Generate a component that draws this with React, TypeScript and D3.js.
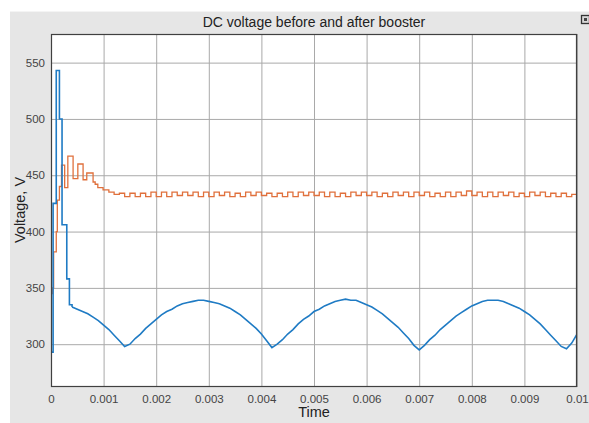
import React, { useEffect, useRef } from 'react';
import * as d3 from 'd3';

// tick labels
const xTicks = [0, 0.001, 0.002, 0.003, 0.004, 0.005, 0.006, 0.007, 0.008, 0.009, 0.01];
const xTickLabels = ['0', '0.001', '0.002', '0.003', '0.004', '0.005', '0.006', '0.007', '0.008', '0.009', '0.01'];
const yTicks = [300, 350, 400, 450, 500, 550];

// before booster (blue): start-up transient, then samples every 0.1 ms from 0.4 ms
const blueTransT = [0, 0.00004, 0.0001, 0.00016, 0.00021, 0.0003, 0.00035];
const blueTransV = [293, 425, 543, 500, 406, 358, 335];
const sampleStep = 0.0001;
const blueStartIdx = 4;
const blueV = [
  333, 331, 329, 327, 324, 321, 317, 313, 308, 303, 298,
  300, 305, 309, 314, 318, 322, 326, 329, 331, 334, 336, 337, 338, 339, 339, 338, 337, 336, 334, 332, 329, 326, 322, 318, 314, 309, 303, 297,
  300, 304, 309, 313, 318, 322, 325, 329, 331, 334, 336, 338, 339, 340, 339, 339, 337, 335, 333, 330, 327, 323, 319, 315, 310, 305, 299, 295,
  299, 304, 308, 313, 317, 321, 325, 328, 331, 334, 336, 338, 339, 339, 339, 338, 336, 334, 332, 329, 326, 322, 318, 313, 308, 303, 298, 296, 301, 309,
];

// after booster (orange): start-up transient, then ripple every 0.1 ms from 1.1 ms
const redTransT = [0, 0.00003, 0.00005, 0.0001, 0.00012, 0.00016, 0.0002, 0.00026, 0.00032, 0.00042, 0.00051, 0.00061, 0.00068, 0.0008, 0.00084, 0.00089, 0.00099];
const redTransV = [345, 350, 382, 400, 428, 440, 459, 439, 467, 447, 460, 446, 452, 444, 442, 439, 437];
const redStartIdx = 11;
const redV = [
  435, 433, 434, 431, 434, 431, 434, 431, 435, 431,
  435, 431, 435, 432, 435, 432, 435, 431, 435, 431,
  435, 432, 435, 431, 434, 431, 435, 432, 435, 432,
  434, 431, 434, 431, 435, 431, 435, 432, 435, 432,
  435, 431, 435, 431, 434, 431, 435, 432, 435, 432,
  435, 431, 434, 431, 435, 432, 435, 431, 435, 432,
  435, 431, 434, 431, 435, 431, 435, 432, 436, 432,
  435, 431, 435, 431, 435, 432, 435, 431, 434, 431,
  435, 432, 435, 431, 434, 431, 434, 431, 433, 431,
];

const Chart = ({ width = 589, height = 423 }) => {
  const ref = useRef<SVGSVGElement>(null);

  useEffect(() => {
    const svg = d3.select(ref.current);
    svg.selectAll('*').remove();
    svg.attr('width', width).attr('height', height);

    const font = 'Liberation Sans, Arial, sans-serif';
    const left = 51, right = 577, top = 34, bottom = 387;

    svg.append('rect').attr('width', width).attr('height', height).attr('fill', '#ffffff');
    svg.append('rect').attr('x', 10).attr('y', 11).attr('width', width - 10).attr('height', height - 11).attr('fill', '#e6e6e6');
    svg.append('line').attr('x1', 10).attr('x2', width).attr('y1', 11.5).attr('y2', 11.5).attr('stroke', '#f4f4f4');

    // little icon top right
    svg.append('rect').attr('x', 581.5).attr('y', 15.5).attr('width', 8).attr('height', 8)
      .attr('fill', '#d8d8d8').attr('stroke', '#333').attr('stroke-width', 1.3);
    svg.append('rect').attr('x', 584).attr('y', 18).attr('width', 3).attr('height', 3).attr('fill', '#444');

    const x = d3.scaleLinear().domain([0, 0.01]).range([left, right]);
    const y = d3.scaleLinear().domain([262, 575.4]).range([bottom, top]);

    svg.append('rect').attr('x', left).attr('y', top).attr('width', right - left).attr('height', bottom - top).attr('fill', '#fff');

    const gx = svg.append('g').attr('transform', `translate(0,${bottom})`)
      .call(d3.axisBottom(x).tickValues(xTicks).tickFormat((d, i) => xTickLabels[i]).tickSize(-(bottom - top)).tickPadding(8));
    gx.select('.domain').remove();
    gx.selectAll('line').attr('stroke', '#a9a9a9');
    gx.selectAll('text').attr('font-family', font).attr('font-size', 11.5).attr('fill', '#444');

    const gy = svg.append('g').attr('transform', `translate(${left},0)`)
      .call(d3.axisLeft(y).tickValues(yTicks).tickSize(-(right - left)).tickPadding(6));
    gy.select('.domain').remove();
    gy.selectAll('line').attr('stroke', '#a9a9a9');
    gy.selectAll('text').attr('font-family', font).attr('font-size', 11.5).attr('fill', '#444');

    const clip = svg.append('clipPath').attr('id', 'plotclip');
    clip.append('rect').attr('x', left).attr('y', top).attr('width', right - left).attr('height', bottom - top);

    const plot = svg.append('g').attr('clip-path', 'url(#plotclip)');

    const stepLine = d3.line<[number, number]>().x((d) => x(d[0])).y((d) => y(d[1])).curve(d3.curveStepAfter);
    const smoothLine = d3.line<[number, number]>().x((d) => x(d[0])).y((d) => y(d[1]));

    const redPts: [number, number][] = redTransT.map((t, i) => [t, redTransV[i]]);
    redV.forEach((v, i) => redPts.push([(redStartIdx + i) * sampleStep, v]));
    redPts.push([0.0101, redV[redV.length - 1]]);
    plot.append('path').attr('d', stepLine(redPts)).attr('fill', 'none')
      .attr('stroke', '#e0703c').attr('stroke-width', 1.3);

    const blueTrans: [number, number][] = blueTransT.map((t, i) => [t, blueTransV[i]]);
    blueTrans.push([blueStartIdx * sampleStep, blueV[0]]);
    const blueArch: [number, number][] = blueV.map((v, i) => [(blueStartIdx + i) * sampleStep, v]);
    plot.append('path').attr('d', stepLine(blueTrans)).attr('fill', 'none')
      .attr('stroke', '#1f7bc4').attr('stroke-width', 1.6);
    plot.append('path').attr('d', smoothLine(blueArch)).attr('fill', 'none')
      .attr('stroke', '#1f7bc4').attr('stroke-width', 1.6);

    svg.append('rect').attr('x', left + 0.5).attr('y', top + 0.5).attr('width', right - left - 1).attr('height', bottom - top - 1)
      .attr('fill', 'none').attr('stroke', '#404040').attr('stroke-width', 1.2);

    svg.append('text').attr('x', 314).attr('y', 27).attr('text-anchor', 'middle')
      .attr('font-family', font).attr('font-size', 14).attr('fill', '#222')
      .text('DC voltage before and after booster');

    svg.append('text').attr('x', 314).attr('y', 417).attr('text-anchor', 'middle')
      .attr('font-family', font).attr('font-size', 14.5).attr('fill', '#222').text('Time');

    svg.append('text').attr('transform', 'translate(25,210) rotate(-90)').attr('text-anchor', 'middle')
      .attr('font-family', font).attr('font-size', 14.5).attr('fill', '#222').text('Voltage, V');
  }, [width, height]);

  return (
    <div style={{ position: 'absolute', left: 0, top: 0 }}>
      <svg ref={ref}></svg>
    </div>
  );
};

export default function App() {
  return <Chart />;
}
